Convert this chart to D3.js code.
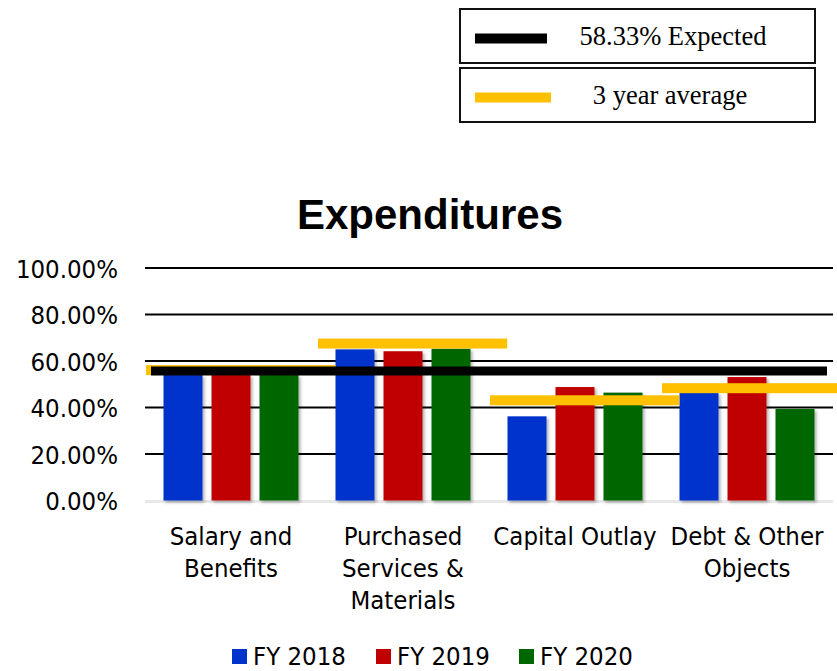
<!DOCTYPE html>
<html><head><meta charset="utf-8">
<script src="https://cdn.jsdelivr.net/npm/d3@7/dist/d3.min.js"></script>
<style>html,body{margin:0;padding:0;background:#fff;}svg{display:block;}</style>
</head><body>
<svg id="chart" width="837" height="671"></svg>
<script>
const categories = [["Salary and","Benefits"],["Purchased","Services &","Materials"],["Capital Outlay"],["Debt & Other","Objects"]];
const categoryKeys = ["Salary and Benefits","Purchased Services & Materials","Capital Outlay","Debt & Other Objects"];
const seriesNames = ["FY 2018","FY 2019","FY 2020"];
const fy2018 = [54.0, 65.0, 36.2, 46.4];
const fy2019 = [54.0, 64.2, 48.8, 53.1];
const fy2020 = [54.0, 65.3, 46.4, 39.4];
const threeYearAvg = [56.1, 67.5, 43.1, 48.3];
const expectedValue = 55.7;
const yTicks = [0, 20, 40, 60, 80, 100];
const seriesColors = ["#0033CC", "#C00000", "#006600"];
const refLegend = ["58.33% Expected", "3 year average"];

const svg = d3.select("#chart");
const plot = {left:145, right:833, top:268, bottom:500.5};
const values = [fy2018, fy2019, fy2020];

const defs = svg.append("defs");
const f = defs.append("filter").attr("id","sh").attr("x","-20%").attr("y","-5%").attr("width","150%").attr("height","115%");
f.append("feDropShadow").attr("dx",2).attr("dy",2).attr("stdDeviation",1.6).attr("flood-color","#000").attr("flood-opacity",0.3);

const x0 = d3.scaleBand().domain(categoryKeys).range([plot.left, plot.right]).padding(0);
const y = d3.scaleLinear().domain([0,100]).range([plot.bottom, plot.top]);
const groupW = 135;
const x1 = d3.scaleBand().domain(seriesNames).range([0, groupW]).paddingInner(0.1875).paddingOuter(0);

// title
svg.append("text").attr("x", 430).attr("y", 229).attr("text-anchor","middle")
  .attr("font-family","'Liberation Sans', Arial, sans-serif").attr("font-weight","bold")
  .attr("font-size", 42).attr("fill","#000").text("Expenditures");

// y axis labels
const yAxis = d3.axisLeft(y).tickValues(yTicks).tickSize(0).tickPadding(27)
  .tickFormat(d => d.toFixed(2) + "%");
const ga = svg.append("g").attr("transform", `translate(${plot.left},0)`).call(yAxis);
ga.select(".domain").remove();
ga.selectAll("text").attr("font-family","'DejaVu Sans Condensed','DejaVu Sans',sans-serif")
  .attr("font-size", 25.5).attr("fill","#000").attr("dy","0.36em");

// gridlines
svg.append("g").selectAll("line").data(yTicks.filter(d => d > 0)).join("line")
  .attr("x1", plot.left).attr("x2", plot.right)
  .attr("y1", d => y(d)).attr("y2", d => y(d))
  .attr("stroke","#000").attr("stroke-width",2);
svg.append("line").attr("x1", plot.left).attr("x2", plot.right)
  .attr("y1", y(0)+1).attr("y2", y(0)+1).attr("stroke","#e8e8e8").attr("stroke-width",3);

// bars
const gBars = svg.append("g");
categoryKeys.forEach((c, ci) => {
  const g = gBars.append("g").attr("transform", `translate(${x0(c) + (x0.bandwidth()-groupW)/2},0)`);
  g.selectAll("rect").data(seriesNames.map((s, si) => ({s, v: values[si][ci], color: seriesColors[si]})))
    .join("rect")
    .attr("x", d => x1(d.s)).attr("width", x1.bandwidth())
    .attr("y", d => y(d.v)).attr("height", d => y(0) - y(d.v))
    .attr("fill", d => d.color).attr("filter","url(#sh)");
});

// three-year average lines
svg.append("g").selectAll("rect").data(categoryKeys.map((c,i)=>({c, v: threeYearAvg[i]}))).join("rect")
  .attr("x", d => x0(d.c) + 1).attr("width", x0.bandwidth()*1.1)
  .attr("y", d => y(d.v) - 5).attr("height", 10)
  .attr("fill", "#FFC000");

// expected line
svg.append("rect").attr("x", plot.left + 6).attr("width", plot.right - plot.left - 12)
  .attr("y", y(expectedValue) - 4.5).attr("height", 9).attr("fill","#000");

// category labels
const gl = svg.append("g");
categoryKeys.forEach((c, ci) => {
  const t = gl.append("text").attr("x", x0(c) + x0.bandwidth()/2).attr("y", 545)
    .attr("text-anchor","middle").attr("font-family","'DejaVu Sans Condensed','DejaVu Sans',sans-serif")
    .attr("font-size", 25.5).attr("fill","#000");
  categories[ci].forEach((line, li) => {
    t.append("tspan").attr("x", x0(c) + x0.bandwidth()/2).attr("dy", li === 0 ? 0 : 32).text(line);
  });
});

// bottom legend
const legendX = [232, 376, 519];
const lg = svg.append("g");
seriesNames.forEach((s, i) => {
  lg.append("rect").attr("x", legendX[i]).attr("y", 649).attr("width", 15).attr("height", 15).attr("fill", seriesColors[i]);
  lg.append("text").attr("x", legendX[i] + 21).attr("y", 665)
    .attr("font-family","'DejaVu Sans Condensed','DejaVu Sans',sans-serif")
    .attr("font-size", 25.5).attr("fill","#000").text(s);
});

// reference legend boxes
const boxes = [{y:9, color:"#000", sw:72, tx:673}, {y:68, color:"#FFC000", sw:76, tx:670}];
boxes.forEach((b, i) => {
  svg.append("rect").attr("x", 460).attr("y", b.y).attr("width", 355).attr("height", 54)
    .attr("fill","#fff").attr("stroke","#111").attr("stroke-width",2);
  svg.append("rect").attr("x", 475).attr("y", b.y + 24.5).attr("width", b.sw).attr("height", 10).attr("fill", b.color);
  svg.append("text").attr("x", b.tx).attr("y", b.y + 36).attr("text-anchor","middle")
    .attr("font-family","'Liberation Serif','Times New Roman',serif").attr("font-size", 26.5)
    .attr("fill","#000").text(refLegend[i]);
});
</script>
</body></html>
